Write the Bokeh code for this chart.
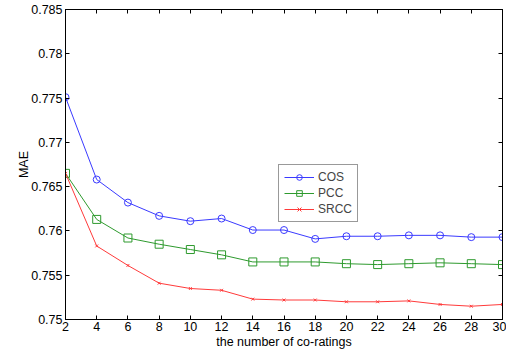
from bokeh.plotting import figure
from bokeh.models import LinearAxis, FixedTicker, Legend, LegendItem, Range1d
from bokeh.embed import file_html
from bokeh.resources import INLINE

x_vals = [2, 4, 6, 8, 10, 12, 14, 16, 18, 20, 22, 24, 26, 28, 30]
cos_vals = [0.7751, 0.7658, 0.7632, 0.7617, 0.7611, 0.7614, 0.7601, 0.7601,
            0.7591, 0.7594, 0.7594, 0.7595, 0.7595, 0.7593, 0.7593]
pcc_vals = [0.7665, 0.7613, 0.7592, 0.7585, 0.7579, 0.7573, 0.7565, 0.7565,
            0.7565, 0.7563, 0.7562, 0.7563, 0.7564, 0.7563, 0.7562]
srcc_vals = [0.7665, 0.7583, 0.7561, 0.7541, 0.7535, 0.7533, 0.7523, 0.7522,
             0.7522, 0.7520, 0.7520, 0.7521, 0.7517, 0.7515, 0.7517]
y_ticks = [0.75, 0.755, 0.76, 0.765, 0.77, 0.775, 0.78, 0.785]
y_tick_labels = ["0.75", "0.755", "0.76", "0.765", "0.77", "0.775", "0.78", "0.785"]
x_ticks = [2, 4, 6, 8, 10, 12, 14, 16, 18, 20, 22, 24, 26, 28, 30]

FONT = "Liberation Sans"

p = figure(width=506, height=351, output_backend="svg", toolbar_location=None,
           x_range=Range1d(2, 30), y_range=Range1d(0.75, 0.785),
           min_border_left=65, min_border_right=4, min_border_top=9,
           min_border_bottom=31)
p.grid.visible = False
p.outline_line_color = "black"
p.background_fill_color = "white"
p.border_fill_color = "white"

def style_axis(ax):
    ax.major_tick_in = 4
    ax.major_tick_out = 0
    ax.minor_tick_in = 0
    ax.minor_tick_out = 0
    ax.axis_line_color = "black"
    ax.major_tick_line_color = "black"
    ax.major_label_text_font = FONT
    ax.major_label_text_font_size = "12.5px"
    ax.major_label_text_color = "black"
    ax.major_label_standoff = 3

p.xaxis.ticker = FixedTicker(ticks=x_ticks)
p.yaxis.ticker = FixedTicker(ticks=y_ticks)
p.yaxis.major_label_overrides = {t: l for t, l in zip(y_ticks, y_tick_labels)}
style_axis(p.xaxis[0])
style_axis(p.yaxis[0])
p.xaxis.major_label_standoff = 2
p.xaxis.axis_label = "the number of co-ratings"
p.yaxis.axis_label = "MAE"
for ax in (p.xaxis[0], p.yaxis[0]):
    ax.axis_label_text_font = FONT
    ax.axis_label_text_font_size = "12.5px"
    ax.axis_label_text_font_style = "normal"
    ax.axis_label_text_color = "black"
p.xaxis.axis_label_standoff = 1
p.yaxis.axis_label_standoff = -3

top = LinearAxis(ticker=FixedTicker(ticks=x_ticks))
style_axis(top)
top.major_label_standoff = 0
top.major_label_overrides = {t: "" for t in x_ticks}
right = LinearAxis(ticker=FixedTicker(ticks=y_ticks))
style_axis(right)
right.major_label_standoff = 0
right.major_label_overrides = {t: "" for t in y_ticks}
p.add_layout(top, "above")
p.add_layout(right, "right")

c_line = p.line(x_vals, cos_vals, line_color="#3a3aff", line_width=1)
c_mark = p.scatter(x_vals, cos_vals, marker="circle", size=7, fill_color=None,
                   line_color="#3a3aff", line_width=1)
g_line = p.line(x_vals, pcc_vals, line_color="#2e9a2e", line_width=1)
g_mark = p.scatter(x_vals, pcc_vals, marker="square", size=8, fill_color=None,
                   line_color="#2e9a2e", line_width=1)
r_line = p.line(x_vals, srcc_vals, line_color="#ff3a3a", line_width=1)
r_mark = p.scatter(x_vals, srcc_vals, marker="x", size=4, line_color="#ff3a3a",
                   line_width=1)

legend = Legend(items=[
    LegendItem(label="COS", renderers=[c_line, c_mark]),
    LegendItem(label="PCC", renderers=[g_line, g_mark]),
    LegendItem(label="SRCC", renderers=[r_line, r_mark]),
], location=(213, 97))
legend.label_text_font = FONT
legend.label_text_font_size = "12px"
legend.glyph_width = 30
legend.glyph_height = 14
legend.label_height = 14
legend.spacing = 2
legend.padding = 5
legend.margin = 0
legend.label_standoff = 4
legend.border_line_color = "#333333"
legend.background_fill_alpha = 1
p.add_layout(legend, "center")

open("out.html", "w").write(file_html(p, INLINE))
